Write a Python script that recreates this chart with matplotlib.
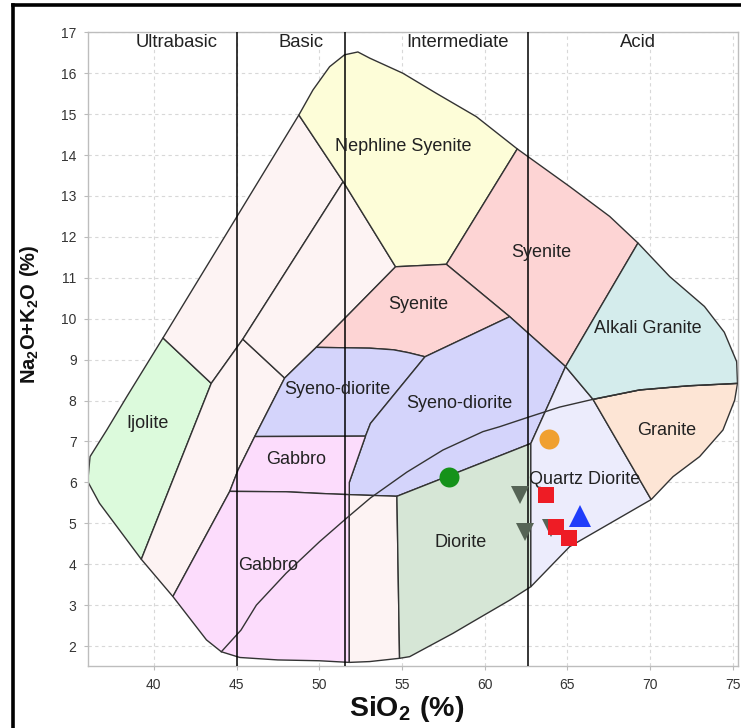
import matplotlib
matplotlib.use("Agg")
import matplotlib.pyplot as plt
from matplotlib.patches import Polygon
from matplotlib.lines import Line2D

plt.rcParams['font.family'] = ['Liberation Sans', 'DejaVu Sans']
plt.rcParams['mathtext.fontset'] = 'custom'
plt.rcParams['mathtext.rm'] = 'Liberation Sans'
plt.rcParams['mathtext.bf'] = 'Liberation Sans:bold'

# ---- TAS plutonic field boundaries (SiO2 wt%, Na2O+K2O wt%) ----
ijolite = [(40.55, 9.53), (43.47, 8.42), (39.24, 4.12), (36.71, 5.49), (36.0, 6.02),
           (36.14, 6.63), (37.15, 7.28), (38.37, 8.1)]
band_upper = [(40.55, 9.53), (48.77, 14.98), (51.45, 13.35), (45.38, 9.5), (43.47, 8.42)]
band_lower = [(39.24, 4.12), (43.47, 8.42), (45.38, 9.5), (47.91, 8.55), (46.1, 7.12),
              (45.09, 6.3), (44.59, 5.78), (41.15, 3.21)]
band_middle = [(45.38, 9.5), (51.45, 13.35), (54.62, 11.27), (49.82, 9.3), (47.91, 8.55)]
neph_syenite = [(48.77, 14.98), (49.62, 15.59), (50.63, 16.16), (51.53, 16.45), (52.34, 16.52),
                (53.05, 16.37), (55.06, 16.0), (57.08, 15.51), (59.5, 14.94), (61.98, 14.15),
                (57.69, 11.33), (54.62, 11.27), (51.45, 13.35)]
syenite_upper = [(57.69, 11.33), (61.98, 14.15), (65.15, 13.23), (67.57, 12.5), (69.28, 11.85),
                 (64.9, 8.83), (61.52, 10.05)]
syenite_lower = [(49.82, 9.3), (54.62, 11.27), (57.69, 11.33), (61.52, 10.05), (56.4, 9.07),
                 (55.4, 9.17), (54.5, 9.24), (53.05, 9.28)]
syeno_left = [(46.1, 7.12), (47.91, 8.55), (49.82, 9.3), (53.05, 9.28), (54.5, 9.24),
              (55.4, 9.17), (56.4, 9.07), (53.1, 7.44), (52.8, 7.13)]
syeno_right = [(56.4, 9.07), (61.52, 10.05), (64.9, 8.83), (62.8, 6.95), (54.7, 5.66),
               (51.82, 5.7), (51.82, 6.0), (52.8, 7.13), (53.1, 7.44)]
gabbro_upper = [(44.59, 5.78), (45.09, 6.3), (46.1, 7.12), (52.8, 7.13), (51.82, 6.0),
                (51.82, 5.7), (50.0, 5.73), (48.0, 5.77)]
gabbro_lower = [(41.15, 3.21), (44.59, 5.78), (48.0, 5.77), (50.0, 5.73), (51.82, 5.7),
                (51.82, 1.6), (50.0, 1.64), (47.5, 1.66), (45.2, 1.72), (44.08, 1.86),
                (43.18, 2.15)]
band_bottom = [(51.82, 5.7), (54.7, 5.66), (54.86, 1.7), (53.05, 1.62), (51.82, 1.6)]
diorite = [(54.7, 5.66), (62.8, 6.95), (62.8, 3.45), (61.52, 3.12), (59.1, 2.55),
           (58.09, 2.31), (55.47, 1.74), (54.86, 1.7)]
quartz_diorite = [(62.8, 6.95), (64.9, 8.83), (66.56, 8.03), (70.08, 5.58), (65.15, 4.43),
                  (62.8, 3.45)]
granite = [(66.56, 8.03), (69.38, 8.26), (72.3, 8.36), (75.3, 8.42), (75.13, 8.01),
           (74.42, 7.28), (73.01, 6.63), (71.4, 6.14), (70.08, 5.58)]
alkali_granite = [(64.9, 8.83), (69.28, 11.85), (71.2, 11.03), (73.3, 10.3), (74.5, 9.67),
                  (75.25, 8.95), (75.3, 8.42), (72.3, 8.36), (69.38, 8.26), (66.56, 8.03)]

# alkaline / subalkaline dividing curve
alk_si = [44.08, 45.27, 46.2, 48.0, 50.02, 51.64, 53.1, 55.3, 57.48, 59.9, 60.91, 62.7,
          64.54, 66.56, 69.38, 72.3, 75.3]
alk_tot = [1.86, 2.39, 3.0, 3.78, 4.55, 5.12, 5.62, 6.25, 6.79, 7.24, 7.36, 7.6,
           7.84, 8.03, 8.26, 8.36, 8.42]

# silica class boundaries and names
class_bounds = [45.0, 51.55, 62.65]
class_names = ["Ultrabasic", "Basic", "Intermediate", "Acid"]
class_name_x = [41.4, 48.92, 58.36, 69.28]

fields = [
    (ijolite, "#dcfadc"), (band_upper, "#fdf3f3"), (band_lower, "#fdf3f3"),
    (band_middle, "#fdf3f3"), (neph_syenite, "#fdfdd8"), (syenite_upper, "#fdd4d4"),
    (syenite_lower, "#fdd4d4"), (syeno_left, "#d4d4fb"), (syeno_right, "#d4d4fb"),
    (gabbro_upper, "#fcdcfc"), (gabbro_lower, "#fcdcfc"), (band_bottom, "#fdf3f3"),
    (diorite, "#d6e6d6"), (quartz_diorite, "#ececfc"), (granite, "#fde5d5"),
    (alkali_granite, "#d4ecec"),
]

field_labels = ["Nephline Syenite", "Syenite", "Syenite", "Alkali Granite", "Syeno-diorite",
                "Syeno-diorite", "Ijolite", "Gabbro", "Granite", "Quartz Diorite", "Diorite",
                "Gabbro"]
label_si = [55.08, 63.41, 55.97, 69.87, 51.08, 58.5, 39.6, 48.6, 71.0, 66.06, 58.56, 46.9]
label_tot = [14.22, 11.63, 10.34, 9.75, 8.28, 7.92, 7.43, 6.57, 7.27, 6.06, 4.54, 3.98]

# samples
orange_si, orange_tot = [63.9], [7.06]
green_si, green_tot = [57.88], [6.14]
grey_si, grey_tot = [62.17, 62.43, 64.04], [5.69, 4.79, 4.88]
red_si, red_tot = [63.74, 64.34, 65.09], [5.69, 4.9, 4.63]
blue_si, blue_tot = [65.8], [5.19]

fig = plt.figure(figsize=(7.41, 7.28), dpi=100)
ax = fig.add_axes([0.1184, 0.0845, 0.878, 0.8711])
ax.set_xlim(36.0, 75.35)
ax.set_ylim(1.5, 17.0)

for verts, col in fields:
    ax.add_patch(Polygon(verts, closed=True, facecolor=col, edgecolor="#333333",
                         linewidth=1.0, zorder=2))

ax.plot(alk_si, alk_tot, color="#333333", lw=1.0, zorder=3)

for xb in class_bounds:
    ax.axvline(xb, color="black", lw=1.1, zorder=4)
for name, xc in zip(class_names, class_name_x):
    ax.text(xc, 16.76, name, ha="center", va="center", fontsize=13.3, color="#222222", zorder=5)

for name, xs, ys in zip(field_labels, label_si, label_tot):
    ax.text(xs, ys, name, ha="center", va="center", fontsize=13, color="#222222", zorder=5)

ax.plot(grey_si, grey_tot, linestyle="none", marker="v", ms=13.5, color="#566456",
        markeredgewidth=0, zorder=6)
ax.plot(red_si, red_tot, linestyle="none", marker="s", ms=11.5, color="#ee1c25",
        markeredgewidth=0, zorder=7)
ax.plot(blue_si, blue_tot, linestyle="none", marker="^", ms=15.5, color="#1f3dfa",
        markeredgewidth=0, zorder=7)
ax.plot(orange_si, orange_tot, linestyle="none", marker="o", ms=14.4, color="#f0a030",
        markeredgewidth=0, zorder=7)
ax.plot(green_si, green_tot, linestyle="none", marker="o", ms=14.4, color="#15921a",
        markeredgewidth=0, zorder=7)

ax.set_xticks([40, 45, 50, 55, 60, 65, 70, 75])
ax.set_yticks(list(range(2, 18)))
ax.grid(True, color="#d8d8d8", linestyle=(0, (3, 3)), linewidth=0.8, zorder=0)
ax.set_axisbelow(True)
ax.tick_params(axis="both", labelsize=10, colors="#bbbbbb", labelcolor="#333333",
               length=3, width=0.8, pad=5)
for sp in ax.spines.values():
    sp.set_color("#bdbdbd")
    sp.set_linewidth(1.0)

ax.set_xlabel(r"$\mathbf{SiO_2\ (\%)}$", fontsize=20.5, color="#111111")
ax.xaxis.set_label_coords(0.49, -0.043)
ax.set_ylabel(r"$\mathbf{Na_2O{+}K_2O\ (\%)}$", fontsize=14.5, color="#111111")
ax.yaxis.set_label_coords(-0.072, 0.556)

# black frame along the top and left edges of the figure
fig.add_artist(Line2D([13.5 / 741, 1.0], [1 - 4.5 / 728, 1 - 4.5 / 728],
                      transform=fig.transFigure, color="black", lw=2.6))
fig.add_artist(Line2D([13.5 / 741, 13.5 / 741], [0.0, 1 - 4.5 / 728],
                      transform=fig.transFigure, color="black", lw=2.6))

fig.savefig("out.png", dpi=100)
